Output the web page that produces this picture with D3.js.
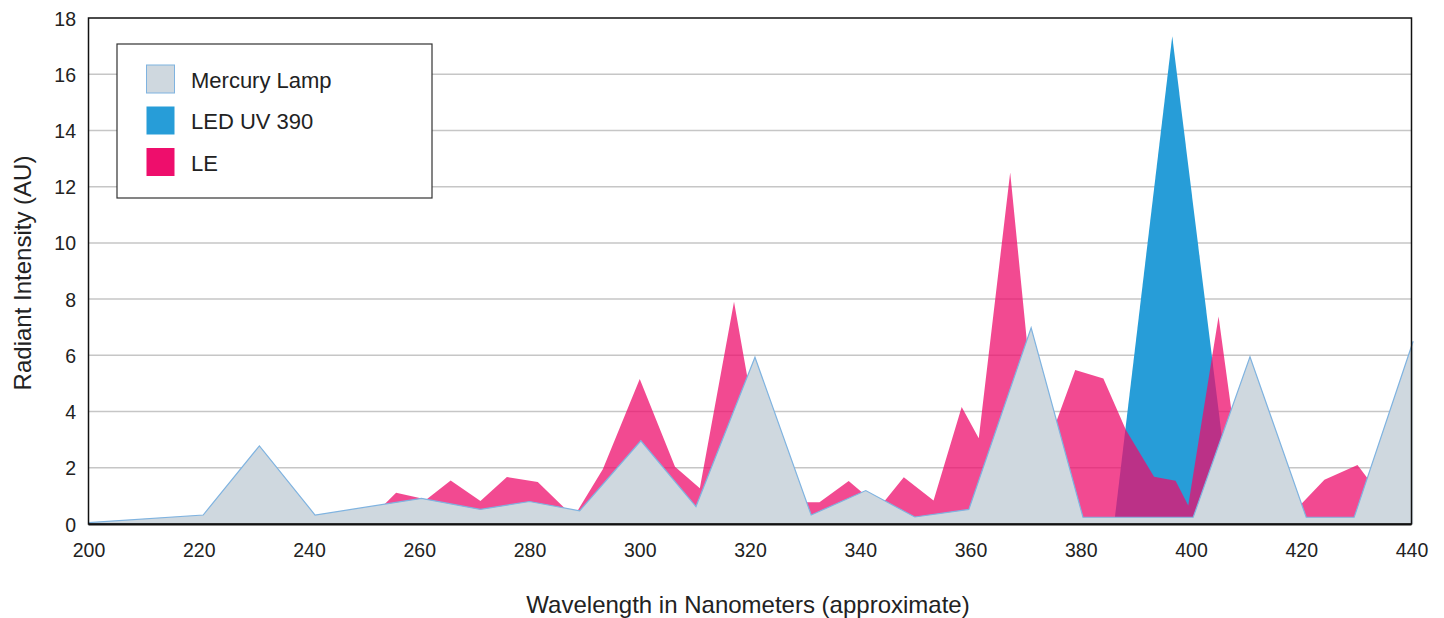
<!DOCTYPE html>
<html>
<head>
<meta charset="utf-8">
<script src="https://cdn.jsdelivr.net/npm/d3@7"></script>
<style>
  html, body { margin: 0; padding: 0; background: #ffffff; }
  svg { display: block; }
  text { font-family: "Liberation Sans", Arial, Helvetica, sans-serif; fill: #222; }
</style>
</head>
<body>
<svg id="chart" width="1444" height="618"></svg>
<script>
// ---------------- DATA ----------------
const seriesNames = ["Mercury Lamp", "LED UV 390", "LE"];

// Mercury Lamp spectrum (wavelength nm, intensity AU)
const mercuryNm  = [200, 220.8, 231, 241.1, 260.4, 271.1, 280, 289.1, 300.2, 310.2, 320.9, 331.1, 341, 349.9, 359.7, 371, 380.4, 400.4, 410.7, 420.9, 429.6, 440.3];
const mercuryVal = [0.05, 0.32, 2.78, 0.32, 0.91, 0.52, 0.80, 0.47, 2.96, 0.62, 5.93, 0.32, 1.19, 0.25, 0.52, 6.98, 0.24, 0.24, 5.95, 0.24, 0.24, 6.5];

// LED UV 390 spectrum
const ledNm  = [386.2, 396.6, 407.4];
const ledVal = [0.25, 17.35, 0.25];

// LE spectrum
const leNm  = [250, 253.7, 255.8, 261.3, 265.7, 271.1, 275.9, 281.5, 286.4, 288.5, 293.3, 300, 306.4, 310.9, 317.1, 323.5, 330.4, 332.6, 337.9, 343.5, 347.9, 353.3, 358.4, 361.5, 367.2, 372.5, 379, 384.1, 388.2, 393.3, 397.2, 399.5, 405, 409.8, 418, 424.2, 430.2, 436, 440];
const leVal = [0.4, 0.7, 1.11, 0.87, 1.55, 0.82, 1.67, 1.49, 0.56, 0.4, 1.95, 5.16, 2.04, 1.27, 7.91, 0.8, 0.77, 0.77, 1.53, 0.6, 1.66, 0.84, 4.16, 3.05, 12.5, 2.0, 5.48, 5.18, 3.34, 1.68, 1.54, 0.66, 7.38, 0.5, 0.3, 1.57, 2.1, 0.6, 0.4];

const xTicks = [200, 220, 240, 260, 280, 300, 320, 340, 360, 380, 400, 420, 440];
const yTicks = [0, 2, 4, 6, 8, 10, 12, 14, 16, 18];

const xTitle = "Wavelength in Nanometers (approximate)";
const yTitle = "Radiant Intensity (AU)";

// ---------------- LAYOUT / STYLE ----------------
const plot = { left: 88.5, right: 1411.5, top: 18, bottom: 524 };
const colMercuryFill = "#cfd8df";
const colMercuryLine = "#7fb3e0";
const colLed = "#279dd8";
const colLe = "#ee0e6c";

const svg = d3.select("#chart");

const x = d3.scaleLinear().domain([200, 440]).range([plot.left, plot.right]);
const y = d3.scaleLinear().domain([0, 18]).range([plot.bottom, plot.top]);

// gridlines
svg.append("g")
  .selectAll("line")
  .data(yTicks.filter(d => d > 0 && d < 18))
  .join("line")
  .attr("x1", plot.left).attr("x2", plot.right)
  .attr("y1", d => y(d)).attr("y2", d => y(d))
  .attr("stroke", "#c6c6c6").attr("stroke-width", 1.5);

const zip = (a, b) => a.map((v, i) => [v, b[i]]);

const area = d3.area()
  .x(d => x(d[0]))
  .y0(y(0))
  .y1(d => y(d[1]));
const line = d3.line()
  .x(d => x(d[0]))
  .y(d => y(d[1]));

const gData = svg.append("g");

// LED (opaque)
gData.append("path")
  .datum(zip(ledNm, ledVal))
  .attr("d", area)
  .attr("fill", colLed);

// LE (semi transparent, over LED)
gData.append("path")
  .datum(zip(leNm, leVal))
  .attr("d", area)
  .attr("fill", colLe)
  .attr("fill-opacity", 0.75);

// Mercury (opaque, on top)
gData.append("path")
  .datum(zip(mercuryNm, mercuryVal))
  .attr("d", area)
  .attr("fill", colMercuryFill);
gData.append("path")
  .datum(zip(mercuryNm, mercuryVal))
  .attr("d", line)
  .attr("fill", "none")
  .attr("stroke", colMercuryLine)
  .attr("stroke-width", 1.2);

// frame
svg.append("rect")
  .attr("x", plot.left).attr("y", plot.top)
  .attr("width", plot.right - plot.left)
  .attr("height", plot.bottom - plot.top)
  .attr("fill", "none")
  .attr("stroke", "#111").attr("stroke-width", 1.5);
svg.append("line")
  .attr("x1", plot.left).attr("x2", plot.right)
  .attr("y1", plot.bottom + 0.5).attr("y2", plot.bottom + 0.5)
  .attr("stroke", "#111").attr("stroke-width", 2);

// axes (labels only, lines handled by frame)
const xAxis = d3.axisBottom(x).tickValues(xTicks).tickSize(0).tickPadding(0).tickFormat(d3.format("d"));
const gx = svg.append("g").attr("transform", `translate(0,${plot.bottom})`).call(xAxis);
gx.select(".domain").remove();
gx.selectAll("text")
  .attr("y", 33).attr("dy", null)
  .style("font-size", "19.5px")
  .style("font-family", '"Liberation Sans", Arial, sans-serif')
  .attr("fill", "#222");

const yAxis = d3.axisLeft(y).tickValues(yTicks).tickSize(0).tickPadding(0).tickFormat(d3.format("d"));
const gy = svg.append("g").attr("transform", `translate(${plot.left},0)`).call(yAxis);
gy.select(".domain").remove();
gy.selectAll("text")
  .attr("x", -12.5).attr("dy", "0.36em")
  .style("font-size", "19.5px")
  .style("font-family", '"Liberation Sans", Arial, sans-serif')
  .attr("fill", "#222");

// axis titles
svg.append("text")
  .attr("x", 748).attr("y", 613)
  .attr("text-anchor", "middle")
  .style("font-size", "24px")
  .text(xTitle);
svg.append("text")
  .attr("transform", "translate(30.5,273) rotate(-90)")
  .attr("text-anchor", "middle")
  .style("font-size", "24px")
  .text(yTitle);

// legend
const legend = svg.append("g");
legend.append("rect")
  .attr("x", 117).attr("y", 44).attr("width", 315).attr("height", 154)
  .attr("fill", "#fff").attr("stroke", "#333").attr("stroke-width", 1.2);
const swFill = [colMercuryFill, colLed, colLe];
const swStroke = [colMercuryLine, "none", "none"];
const items = legend.selectAll("g.item")
  .data(seriesNames)
  .join("g")
  .attr("class", "item")
  .attr("transform", (d, i) => `translate(146,${64.5 + i * 41.5})`);
items.append("rect")
  .attr("x", 0.5).attr("y", 0.5).attr("width", 28).attr("height", 28)
  .attr("fill", (d, i) => swFill[i])
  .attr("stroke", (d, i) => swStroke[i])
  .attr("stroke-width", 1);
items.append("text")
  .attr("x", 45).attr("y", 23)
  .style("font-size", "22px")
  .text(d => d);
</script>
</body>
</html>
